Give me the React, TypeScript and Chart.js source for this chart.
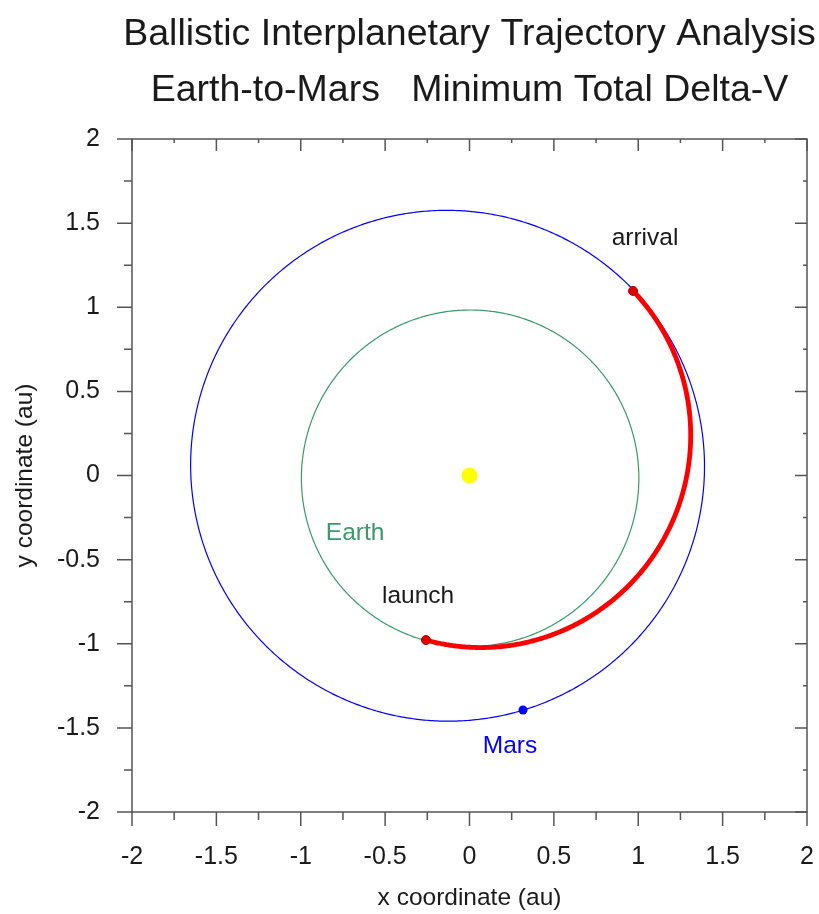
import React, { useEffect, useRef } from 'react';
import { Chart, registerables } from 'chart.js';

Chart.register(...registerables);

const titleLines = ['Ballistic Interplanetary Trajectory Analysis', 'Earth-to-Mars   Minimum Total Delta-V'];
const xAxisTitle = 'x coordinate (au)';
const yAxisTitle = 'y coordinate (au)';
const majorTicks = [-2, -1.5, -1, -0.5, 0, 0.5, 1, 1.5, 2];
const minorTicks = [-1.75, -1.25, -0.75, -0.25, 0.25, 0.75, 1.25, 1.75];
const tickLabels = ['-2', '-1.5', '-1', '-0.5', '0', '0.5', '1', '1.5', '2'];

// orbital elements: semi-major axis (au), eccentricity, longitude of perihelion (deg)
const earthOrbit = [1.0, 0.0167, 102.9];
const marsOrbit = [1.5237, 0.0934, 336.0];
// transfer conic: semi-latus rectum (au), eccentricity, longitude of perihelion, start lon, end lon (deg)
const transferArc = [1.2039, 0.191, 250, 255.2, 408.5];

const sunPos = [0, 0];
const launchPos = [-0.258, -0.978];
const arrivalPos = [0.969, 1.097];
const marsPos = [0.317, -1.394];

const labelNames = ['arrival', 'launch', 'Earth', 'Mars'];
const labelX = [1.04, -0.305, -0.678, 0.24];
const labelY = [1.41, -0.716, -0.342, -1.608];

const COLORS = {
  earth: '#3a9a6a',
  mars: '#0000ff',
  transfer: '#ff0000',
  sun: '#ffff00',
  axis: '#555555',
  text: '#1a1a1a',
};
const labelColors = [COLORS.text, COLORS.text, COLORS.earth, COLORS.mars];
const FONT = "'Liberation Sans', Arial, sans-serif";

function conic(p: number, e: number, w: number, t0: number, t1: number, n: number) {
  const pts: { x: number; y: number }[] = [];
  for (let i = 0; i <= n; i++) {
    const th = ((t0 + ((t1 - t0) * i) / n) * Math.PI) / 180;
    const r = p / (1 + e * Math.cos(th - (w * Math.PI) / 180));
    pts.push({ x: r * Math.cos(th), y: r * Math.sin(th) });
  }
  return pts;
}

function orbit(el: number[]) {
  const [a, e, w] = el;
  return conic(a * (1 - e * e), e, w, 0, 360, 360);
}

const framePlugin = {
  id: 'frame',
  afterDraw(chart: any) {
    const { ctx, chartArea } = chart;
    const xs = chart.scales.x;
    const ys = chart.scales.y;
    const { left, right, top, bottom } = chartArea;
    ctx.save();
    ctx.strokeStyle = COLORS.axis;
    ctx.lineWidth = 1.5;
    ctx.strokeRect(left, top, right - left, bottom - top);
    ctx.beginPath();
    majorTicks.forEach((v) => {
      const px = xs.getPixelForValue(v);
      ctx.moveTo(px, bottom); ctx.lineTo(px, bottom + 14);
      ctx.moveTo(px, top); ctx.lineTo(px, top + 12);
      const py = ys.getPixelForValue(v);
      ctx.moveTo(left, py); ctx.lineTo(left - 15, py);
      ctx.moveTo(right, py); ctx.lineTo(right - 12, py);
    });
    minorTicks.forEach((v) => {
      const px = xs.getPixelForValue(v);
      ctx.moveTo(px, bottom); ctx.lineTo(px, bottom + 8);
      ctx.moveTo(px, top); ctx.lineTo(px, top + 4);
      const py = ys.getPixelForValue(v);
      ctx.moveTo(left, py); ctx.lineTo(left - 8, py);
      ctx.moveTo(right, py); ctx.lineTo(right - 4, py);
    });
    ctx.stroke();

    ctx.fillStyle = COLORS.text;
    ctx.font = `25px ${FONT}`;
    ctx.textBaseline = 'middle';
    ctx.textAlign = 'center';
    majorTicks.forEach((v, i) => {
      ctx.fillText(tickLabels[i], xs.getPixelForValue(v), bottom + 45);
    });
    ctx.textAlign = 'right';
    majorTicks.forEach((v, i) => {
      ctx.fillText(tickLabels[i], left - 32, ys.getPixelForValue(v));
    });

    // axis titles
    ctx.font = `24.5px ${FONT}`;
    ctx.textAlign = 'center';
    ctx.fillText(xAxisTitle, (left + right) / 2, bottom + 86);
    ctx.save();
    ctx.translate(25, (top + bottom) / 2);
    ctx.rotate(-Math.PI / 2);
    ctx.fillText(yAxisTitle, 0, 0);
    ctx.restore();

    // titles
    ctx.font = `37.5px ${FONT}`;
    ctx.textBaseline = 'alphabetic';
    ctx.fillText(titleLines[0], (left + right) / 2, 45);
    ctx.fillText(titleLines[1], (left + right) / 2, 101);

    // annotations
    ctx.font = `24.5px ${FONT}`;
    ctx.textBaseline = 'middle';
    labelNames.forEach((name, i) => {
      ctx.fillStyle = labelColors[i];
      ctx.fillText(name, xs.getPixelForValue(labelX[i]), ys.getPixelForValue(labelY[i]));
    });
    ctx.restore();
  },
};

export default function App() {
  const ref = useRef<HTMLCanvasElement | null>(null);
  useEffect(() => {
    if (!ref.current) return;
    const [p, e, w, t0, t1] = transferArc;
    const chart = new Chart(ref.current, {
      type: 'scatter',
      data: {
        datasets: [
          {
            label: 'Sun',
            data: [{ x: sunPos[0], y: sunPos[1] }],
            pointRadius: 8,
            pointBackgroundColor: COLORS.sun,
            pointBorderWidth: 0,
            showLine: false,
          },
          {
            label: 'Launch/Arrival',
            data: [
              { x: launchPos[0], y: launchPos[1] },
              { x: arrivalPos[0], y: arrivalPos[1] },
            ],
            pointRadius: 4.5,
            pointBackgroundColor: '#e00000',
            pointBorderColor: '#b00000',
            pointBorderWidth: 1,
            showLine: false,
          },
          {
            label: 'Mars position',
            data: [{ x: marsPos[0], y: marsPos[1] }],
            pointRadius: 4.5,
            pointBackgroundColor: COLORS.mars,
            pointBorderWidth: 0,
            showLine: false,
          },
          {
            label: 'Transfer',
            data: conic(p, e, w, t0, t1, 200),
            showLine: true,
            borderColor: COLORS.transfer,
            borderWidth: 4.8,
            pointRadius: 0,
            tension: 0.01,
            borderCapStyle: 'round',
            borderJoinStyle: 'round',
          },
          {
            label: 'Earth orbit',
            data: orbit(earthOrbit),
            showLine: true,
            borderColor: COLORS.earth,
            borderWidth: 1.2,
            pointRadius: 0,
            tension: 0.01,
          },
          {
            label: 'Mars orbit',
            data: orbit(marsOrbit),
            showLine: true,
            borderColor: COLORS.mars,
            borderWidth: 1.2,
            pointRadius: 0,
            tension: 0.01,
          },
        ],
      },
      options: {
        animation: false,
        responsive: false,
        events: [],
        layout: { padding: { left: 132, right: 12, top: 139, bottom: 102 } },
        scales: {
          x: { type: 'linear', min: -2, max: 2, display: false },
          y: { type: 'linear', min: -2, max: 2, display: false },
        },
        plugins: { legend: { display: false }, tooltip: { enabled: false }, title: { display: false } },
      },
      plugins: [framePlugin],
    } as any);
    return () => chart.destroy();
  }, []);
  return (
    <div style={{ position: 'absolute', left: 0, top: 0, width: 819, height: 914, background: '#fff' }}>
      <canvas ref={ref} width={819} height={914} style={{ width: 819, height: 914 }} />
    </div>
  );
}
